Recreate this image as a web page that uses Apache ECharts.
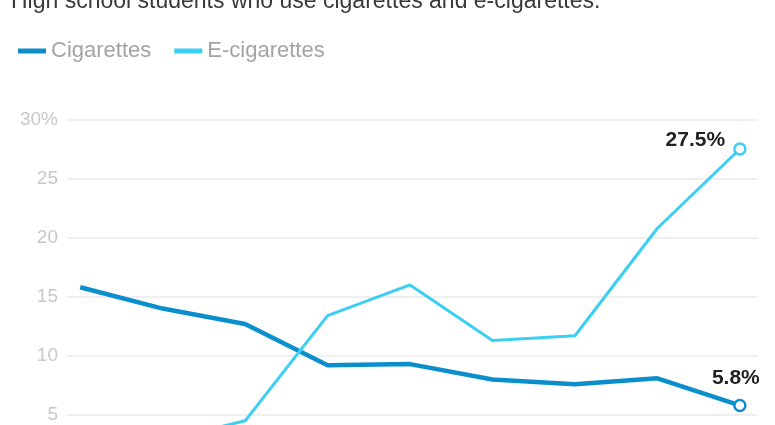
<!DOCTYPE html>
<html>
<head>
<meta charset="utf-8">
<script src="https://cdn.jsdelivr.net/npm/echarts@6/dist/echarts.min.js"></script>
<style>
  html, body { margin: 0; padding: 0; background: #fff; overflow: hidden; }
  #wrap { width: 775px; height: 425px; overflow: hidden; }
  #chart { width: 775px; height: 500px; }
</style>
</head>
<body>
<div id="wrap"><div id="chart"></div></div>
<script>
// Data (percent of high school students)
var years = [2011, 2012, 2013, 2014, 2015, 2016, 2017, 2018, 2019];
var cigarettes = [15.8, 14.0, 12.7, 9.2, 9.3, 8.0, 7.6, 8.1, 5.8];
var eCigarettes = [1.5, 2.8, 4.5, 13.4, 16.0, 11.3, 11.7, 20.8, 27.5];

var font = '"Liberation Sans", Arial, sans-serif';

// the picture is cropped: the 0 line sits below the visible area,
// so the chart is drawn taller than the window and clipped
function toPoints(values, color, lastLabel) {
  return values.map(function (v, i) {
    var p = { value: [years[i], v] };
    if (i === values.length - 1) {
      p.symbol = 'circle';
      p.symbolSize = 11;
      p.itemStyle = { color: '#fff', borderColor: color, borderWidth: 2.5 };
      p.label = lastLabel;
    }
    return p;
  });
}

var labelStyle = {
  show: true,
  formatter: '{@[1]}%',
  fontFamily: font,
  fontSize: 21,
  fontWeight: 'bold',
  color: '#222'
};

var myChart = echarts.init(document.getElementById('chart'));

var option = {
  backgroundColor: '#fff',
  animation: false,
  title: {
    text: 'High school students who use cigarettes and e-cigarettes.',
    left: 6,
    top: -15,
    textStyle: { fontFamily: font, fontSize: 23, fontWeight: 'normal', color: '#3a3a3a' }
  },
  legend: {
    left: 13,
    top: 35,
    itemWidth: 28,
    itemHeight: 5,
    itemGap: 23,
    icon: 'rect',
    itemStyle: { borderWidth: 0 },
    textStyle: { fontFamily: font, fontSize: 22, color: '#a4a4a4' },
    data: ['Cigarettes', 'E-cigarettes']
  },
  grid: { left: 67, right: 17, top: 119.5, bottom: 26 },
  xAxis: {
    type: 'value',
    min: 2010.84,
    max: 2019.22,
    show: false
  },
  yAxis: {
    type: 'value',
    min: 0,
    max: 30,
    interval: 5,
    axisLine: { show: false },
    axisTick: { show: false },
    axisLabel: {
      margin: 9,
      fontFamily: font,
      fontSize: 19,
      color: '#c8c8c8',
      formatter: function (v) { return v === 30 ? v + '%' : String(v); }
    },
    splitLine: { lineStyle: { color: '#efefef', width: 2 } }
  },
  series: [
    {
      name: 'Cigarettes',
      type: 'line',
      symbol: 'none',
      lineStyle: { width: 4.5, color: '#0a8fcc' },
      itemStyle: { color: '#0a8fcc' },
      data: toPoints(cigarettes, '#0a8fcc', Object.assign({
        position: 'top',
        distance: 10,
        offset: [-4, 0]
      }, labelStyle))
    },
    {
      name: 'E-cigarettes',
      type: 'line',
      symbol: 'none',
      lineStyle: { width: 3, color: '#3ccff4' },
      itemStyle: { color: '#3ccff4' },
      data: toPoints(eCigarettes, '#3ccff4', Object.assign({
        position: 'left',
        distance: 8,
        offset: [0, -9]
      }, labelStyle))
    }
  ]
};

myChart.setOption(option);
</script>
</body>
</html>
